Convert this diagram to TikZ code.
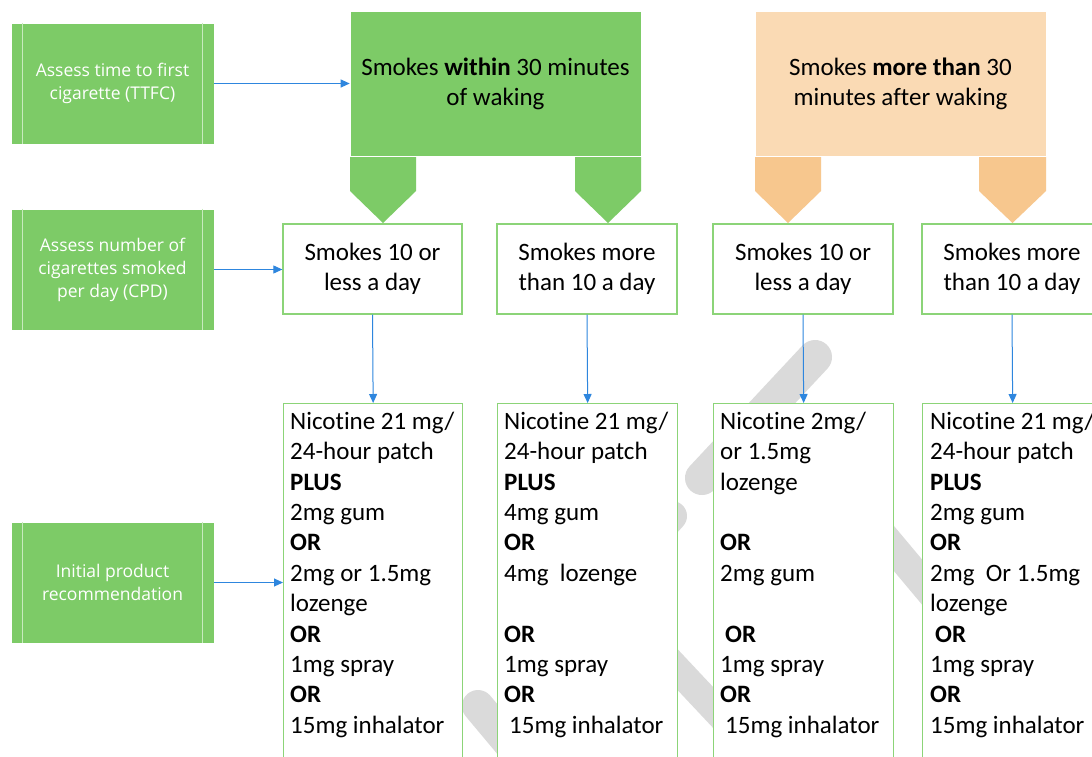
\documentclass[tikz,border=0pt]{standalone}
\usepackage{fontspec}
\setmainfont{Carlito}[Ligatures={NoCommon}]
\newfontfamily\segoe{Open Sans}
\usetikzlibrary{arrows.meta}
\definecolor{gfill}{RGB}{125,203,103}
\definecolor{gline}{RGB}{200,234,190}
\definecolor{gborder}{RGB}{140,212,120}
\definecolor{ofill}{RGB}{250,218,180}
\definecolor{opent}{RGB}{247,199,142}
\definecolor{arrowblue}{RGB}{46,134,222}
\definecolor{wmark}{RGB}{218,218,218}
\begin{document}
\begin{tikzpicture}[x=1pt,y=-1pt,
  sidebox/.style={rectangle, fill=gfill, draw=white, line width=0.6pt, minimum width=203pt, minimum height=121pt, inner sep=0pt, align=center, text=white, font=\segoe\fontsize{17.5}{23}\selectfont},
  topgreen/.style={rectangle, fill=gfill, draw=white, line width=0.6pt, minimum width=291pt, minimum height=145pt, inner sep=0pt, align=center, font=\fontsize{25}{30}\selectfont},
  toporange/.style={topgreen, fill=ofill},
  pentg/.style={fill=gfill, draw=none},
  pento/.style={fill=opent, draw=none},
  midbox/.style={rectangle, fill=white, draw=gborder, line width=1.3pt, minimum height=90pt, inner sep=0pt, align=center, font=\fontsize{25}{30}\selectfont},
  lowbox/.style={rectangle, fill=white, draw=gborder, line width=1.3pt, minimum height=430pt, anchor=north west, inner sep=0pt},
  rtext/.style={anchor=north west, inner sep=0pt, align=left, font=\fontsize{25}{30.4}\selectfont},
  arr/.style={draw=arrowblue, line width=1pt, -{Triangle[length=9pt,width=8pt]}},
  wm/.style={draw=wmark, line cap=round}
]
\useasboundingbox (0,0) rectangle (1092,756);
\fill[white] (0,0) rectangle (1092,756);

% watermark fragments (behind the boxes)
\draw[wm, line width=34pt] (815,357) -- (702,478);
\draw[wm, line width=30pt] (672,516) -- (560,640);
\draw[wm, line width=28pt] (600,587) -- (800,800);
\draw[wm, line width=29pt] (860,508) -- (1010,687);
\draw[wm, line width=32pt] (478,706) -- (540,780);

% left green process boxes
\node[sidebox] (L1) at (112.5,83.5) {Assess time to first\\cigarette (TTFC)};
\node[sidebox] (L2) at (112.5,269.5) {Assess number of\\cigarettes smoked\\per day (CPD)};
\node[sidebox] (L3) at (112.5,582.5) {Initial product\\recommendation};
\foreach \n in {L1,L2,L3}{
  \draw[gline, line width=0.8pt] ([xshift=12pt]\n.north west) -- ([xshift=12pt]\n.south west);
  \draw[gline, line width=0.8pt] ([xshift=-12pt]\n.north east) -- ([xshift=-12pt]\n.south east);
}

% top boxes
\node[topgreen] (T1) at (495.5,83.5) {Smokes \textbf{within} 30 minutes\\of waking};
\node[toporange] (T2) at (900.5,83.5) {Smokes \textbf{more than} 30\\minutes after waking};

% pentagon arrows
\fill[pentg] (350,157) -- (416,157) -- (416,191) -- (383,223) -- (350,191) -- cycle;
\fill[pentg] (575,157) -- (641,157) -- (641,191) -- (608,223) -- (575,191) -- cycle;
\fill[pento] (755,157) -- (821,157) -- (821,191) -- (788,223) -- (755,191) -- cycle;
\fill[pento] (979,157) -- (1046,157) -- (1046,191) -- (1012.5,223) -- (979,191) -- cycle;

% middle row
\node[midbox, minimum width=179pt] (S1) at (372.5,269) {Smokes 10 or\\less a day};
\node[midbox, minimum width=180pt] (S2) at (587,269) {Smokes more\\than 10 a day};
\node[midbox, minimum width=180pt] (S3) at (803,269) {Smokes 10 or\\less a day};
\node[midbox, minimum width=180pt] (S4) at (1012,269) {Smokes more\\than 10 a day};

% lower row boxes
\node[lowbox, minimum width=179pt] (R1) at (283,403) {};
\node[lowbox, minimum width=180pt] (R2) at (497,403) {};
\node[lowbox, minimum width=180pt] (R3) at (713,403) {};
\node[lowbox, minimum width=180pt] (R4) at (922,403) {};

\node[rtext] (R1t) at ([xshift=7pt]R1.north west) {\rule{0pt}{26pt}Nicotine 21 mg/\\
24-hour patch\\
\textbf{PLUS}\\
2mg gum\\
\textbf{OR}\\
2mg or 1.5mg\\
lozenge\\
\textbf{OR}\\
1mg spray\\
\textbf{OR}\\
15mg inhalator};

\node[rtext] (R2t) at ([xshift=7pt]R2.north west) {\rule{0pt}{26pt}Nicotine 21 mg/\\
24-hour patch\\
\textbf{PLUS}\\
4mg gum\\
\textbf{OR}\\
4mg~ lozenge\\
\mbox{}\\
\textbf{OR}\\
1mg spray\\
\textbf{OR}\\
\hspace*{5pt}15mg inhalator};

\node[rtext] (R3t) at ([xshift=7pt]R3.north west) {\rule{0pt}{26pt}Nicotine 2mg/\\
or 1.5mg\\
lozenge\\
\mbox{}\\
\textbf{OR}\\
2mg gum\\
\mbox{}\\
\hspace*{5pt}\textbf{OR}\\
1mg spray\\
\textbf{OR}\\
\hspace*{5pt}15mg inhalator};

\node[rtext] (R4t) at ([xshift=8pt]R4.north west) {\rule{0pt}{26pt}Nicotine 21 mg/\\
24-hour patch\\
\textbf{PLUS}\\
2mg gum\\
\textbf{OR}\\
2mg~ Or 1.5mg\\
lozenge\\
\hspace*{5pt}\textbf{OR}\\
1mg spray\\
\textbf{OR}\\
15mg inhalator};

% connectors
\draw[arr] (L1.east) -- (T1.west);
\draw[arr] (L2.east) -- (L2.east -| S1.west);
\draw[arr] (L3.east) -- (L3.east -| R1.west);
\draw[arr] (S1.south) -- (R1.north);
\draw[arr] (S2.south) -- (R2.north);
\draw[arr] (S3.south) -- (R3.north);
\draw[arr] (S4.south) -- (R4.north);
\end{tikzpicture}
\end{document}
